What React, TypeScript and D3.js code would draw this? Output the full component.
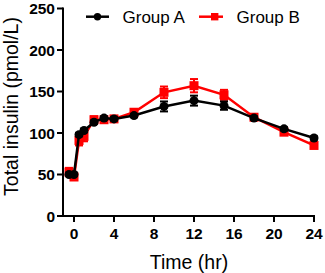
import React from "react";
import * as d3 from "d3";

const times = [-0.5, 0, 0.5, 1, 2, 3, 4, 6, 9, 12, 15, 18, 21, 24];
const groupA = [50, 50, 98, 103, 113, 118, 117, 121, 132, 139, 133, 118, 105, 94];
const groupAErr = [1.5, 1.5, 2, 2, 2, 2, 2, 2, 6, 6, 5, 2, 2, 2];
const groupB = [53, 47, 91, 96, 116, 116, 117, 125, 149, 157, 146, 119, 101, 85];
const groupBErr = [5, 3, 6, 6, 4, 3, 3, 3, 7, 8, 6, 3, 3, 3];
const xTicks = [0, 4, 8, 12, 16, 20, 24];
const yTicks = [0, 50, 100, 150, 200, 250];
const seriesNames = ["Group A", "Group B"];

const FONT = "'Liberation Sans', Arial, Helvetica, sans-serif";

export default function App() {
  const W = 325, H = 273;
  const x = d3.scaleLinear().domain([-1.1, 24]).range([63, 314]);
  const y = d3.scaleLinear().domain([0, 250]).range([216, 8.5]);
  const line = d3.line<[number, number]>().x(d => x(d[0])).y(d => y(d[1]));
  const ptsA: [number, number][] = times.map((t, i) => [t, groupA[i]]);
  const ptsB: [number, number][] = times.map((t, i) => [t, groupB[i]]);
  const x0 = x.range()[0];
  const y0 = y(0);

  const errBars = (vals: number[], errs: number[], color: string) =>
    times.map((t, i) => {
      const cx = x(t);
      const top = y(vals[i] + errs[i]);
      const bot = y(vals[i] - errs[i]);
      return (
        <g key={i} stroke={color} strokeWidth={2}>
          <line x1={cx} x2={cx} y1={top} y2={bot} />
          <line x1={cx - 4} x2={cx + 4} y1={top} y2={top} />
          <line x1={cx - 4} x2={cx + 4} y1={bot} y2={bot} />
        </g>
      );
    });

  return (
    <svg width={W} height={H} style={{ position: "fixed", left: 0, top: 0, background: "#fff" }} fontFamily={FONT}>
      {/* Group B */}
      {errBars(groupB, groupBErr, "#ff0000")}
      <path d={line(ptsB) || ""} fill="none" stroke="#ff0000" strokeWidth={2.5} />
      {ptsB.map((p, i) => (
        <rect key={i} x={x(p[0]) - 4.5} y={y(p[1]) - 4.5} width={9} height={9} fill="#ff0000" />
      ))}
      {/* Group A */}
      {errBars(groupA, groupAErr, "#000")}
      <path d={line(ptsA) || ""} fill="none" stroke="#000" strokeWidth={2.5} />
      {ptsA.map((p, i) => (
        <circle key={i} cx={x(p[0])} cy={y(p[1])} r={4.5} fill="#000" />
      ))}

      {/* axes */}
      <line x1={x0} x2={x0} y1={y(250) - 1} y2={y0 + 1} stroke="#000" strokeWidth={2} />
      <line x1={x0 - 1} x2={x(24) + 1} y1={y0} y2={y0} stroke="#000" strokeWidth={2} />
      {yTicks.map(t => (
        <g key={t}>
          <line x1={x0 - 6} x2={x0} y1={y(t)} y2={y(t)} stroke="#000" strokeWidth={2} />
          <text x={x0 - 8} y={y(t)} dy="0.36em" textAnchor="end" fontSize={15.5} fontWeight="bold">{t}</text>
        </g>
      ))}
      {xTicks.map(t => (
        <g key={t}>
          <line x1={x(t)} x2={x(t)} y1={y0} y2={y0 + 6} stroke="#000" strokeWidth={2} />
          <text x={x(t)} y={y0 + 23} textAnchor="middle" fontSize={15.5} fontWeight="bold">{t}</text>
        </g>
      ))}
      <text x={189} y={269} textAnchor="middle" fontSize={19.5}>Time (hr)</text>
      <text transform={`translate(17.5,${106.5}) rotate(-90)`} textAnchor="middle" fontSize={19.5}>Total insulin (pmol/L)</text>

      {/* legend */}
      <line x1={86} x2={109} y1={16.7} y2={16.7} stroke="#000" strokeWidth={2.5} />
      <circle cx={97.5} cy={16.7} r={3.7} fill="#000" />
      <text x={122.5} y={22.8} fontSize={17}>{seriesNames[0]}</text>
      <line x1={199} x2={223} y1={16.7} y2={16.7} stroke="#ff0000" strokeWidth={2.5} />
      <rect x={211} y={13} width={7.4} height={7.4} fill="#ff0000" />
      <text x={236.5} y={22.8} fontSize={17}>{seriesNames[1]}</text>
    </svg>
  );
}
